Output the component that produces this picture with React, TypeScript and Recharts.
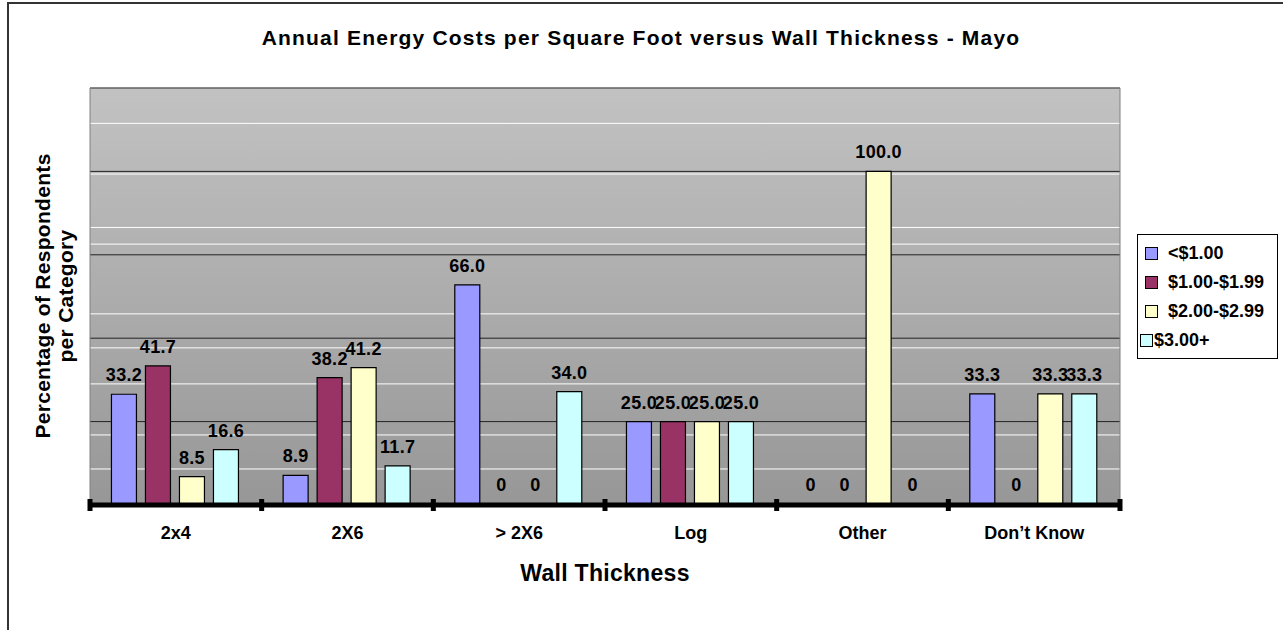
import React from 'react';
import {
  BarChart,
  Bar,
  XAxis,
  YAxis,
  CartesianGrid,
  ReferenceArea,
  LabelList,
  Legend,
  Rectangle,
} from 'recharts';

// Wall thickness categories
const categories = ['2x4', '2X6', '> 2X6', 'Log', 'Other', 'Don\u2019t Know'];

// Percentage of respondents per cost bracket
const under100 = [33.2, 8.9, 66.0, 25.0, 0, 33.3];
const from100to199 = [41.7, 38.2, 0, 25.0, 0, 0];
const from200to299 = [8.5, 41.2, 0, 25.0, 100.0, 33.3];
const over300 = [16.6, 11.7, 34.0, 25.0, 0, 33.3];

const seriesNames = ['<$1.00', '$1.00-$1.99', '$2.00-$2.99', '$3.00+'];
const seriesKeys = ['s0', 's1', 's2', 's3'];
const seriesColors = ['#9999FF', '#993366', '#FFFFCC', '#CCFFFF'];

// Value axis: dark rules every 25, plus the light rules of the plot texture
const yDomain = [0, 125];
const majorTicks = [0, 25, 50, 75, 100, 125];
const minorRules = [10.8, 21.0, 36.3, 47.1, 57.3, 78.2, 83.2, 99.2, 114.4];

const rows = categories.map((name, i) => ({
  name,
  s0: under100[i],
  s1: from100to199[i],
  s2: from200to299[i],
  s3: over300[i],
}));

const FONT = '"Liberation Sans", Arial, Helvetica, sans-serif';

const formatValue = (v: any) => (Number(v) === 0 ? '0' : Number(v).toFixed(1));

// Map the light rule values to pixel rows through the value axis scale
const minorRuleCoords = (args: any) => {
  const { yAxis, offset } = args || {};
  const s = yAxis?.scale;
  return minorRules.map((v) => {
    if (typeof s === 'function') return s(v);
    if (s && typeof s.map === 'function') return s.map(v);
    return offset.top + offset.height * (1 - (v - yDomain[0]) / (yDomain[1] - yDomain[0]));
  });
};

// Zero values keep a hairline slot so their "0" label is still placed,
// but nothing is painted for them.
const zeroSlot = (value: any) => (Number(value) === 0 ? 1 : 0);

const BarShape = (props: any) => {
  if (Number(props.value) === 0) return null;
  return <Rectangle {...props} />;
};

// Value label centred above each bar
const ValueLabel = (props: any) => {
  const vb = props.viewBox || {};
  const bx = vb.x ?? props.x;
  const by = vb.y ?? props.y;
  const bw = vb.width ?? props.width ?? 0;
  const bh = vb.height ?? props.height ?? 0;
  const x = bx + bw / 2;
  const top = Math.min(by, by + bh);
  if (!Number.isFinite(x) || !Number.isFinite(top)) return null;
  return (
    <text
      x={x}
      y={top - 13}
      textAnchor="middle"
      fontFamily={FONT}
      fontWeight="bold"
      fontSize={18}
      letterSpacing={0.3}
      fill="#000"
    >
      {formatValue(props.value)}
    </text>
  );
};

const CategoryTick = (props: any) => {
  const { x, y, payload, index, visibleTicksCount, width } = props;
  const half =
    typeof payload?.offset === 'number' && payload.offset > 0
      ? payload.offset
      : width / visibleTicksCount / 2;
  return (
    <g>
      <rect x={x - half - 2.5} y={y - 6} width={5} height={12} fill="#000" />
      {index === visibleTicksCount - 1 && (
        <rect x={x + half - 2.5} y={y - 6} width={5} height={12} fill="#000" />
      )}
      <text
        x={x}
        y={y + 34}
        textAnchor="middle"
        fontFamily={FONT}
        fontWeight="bold"
        fontSize={18}
        fill="#000"
      >
        {payload.value}
      </text>
    </g>
  );
};

const LegendBox = () => (
  <div
    style={{
      width: 141,
      height: 125,
      boxSizing: 'border-box',
      border: '1px solid #000',
      background: '#fff',
      paddingTop: 4,
      fontFamily: FONT,
      fontWeight: 'bold',
      fontSize: 18,
      color: '#000',
    }}
  >
    {seriesNames.map((n, i) => {
      const compact = i === seriesNames.length - 1;
      return (
        <div
          key={n}
          style={{
            display: 'flex',
            alignItems: 'center',
            height: 29,
            paddingLeft: compact ? 2 : 7,
            whiteSpace: 'nowrap',
          }}
        >
          <span
            style={{
              display: 'inline-block',
              width: 11,
              height: 11,
              border: '1px solid #000',
              background: seriesColors[i],
              marginRight: compact ? 1 : 10,
              flex: '0 0 auto',
            }}
          />
          <span>{n}</span>
        </div>
      );
    })}
  </div>
);

export default function App() {
  return (
    <div
      style={{
        position: 'absolute',
        left: 0,
        top: 0,
        width: 1283,
        height: 630,
        overflow: 'hidden',
        background: '#fff',
      }}
    >
      <svg width={0} height={0} style={{ position: 'absolute' }}>
        <defs>
          <linearGradient id="plotFill" x1="0" y1="0" x2="0" y2="1">
            <stop offset="0" stopColor="#C2C2C2" />
            <stop offset="1" stopColor="#979797" />
          </linearGradient>
        </defs>
      </svg>

      <div
        style={{
          position: 'absolute',
          left: 7,
          top: 2,
          width: 1300,
          height: 660,
          borderLeft: '2px solid #333',
          borderTop: '2px solid #333',
        }}
      />

      <div style={{ position: 'absolute', left: 0, top: 0 }}>
        <BarChart
          width={1283}
          height={630}
          data={rows}
          margin={{ top: 88, right: 163, bottom: 85, left: 90 }}
          barCategoryGap="12.5%"
          barGap={9}
        >
          <YAxis hide type="number" domain={yDomain} ticks={majorTicks} />
          <CartesianGrid
            vertical={false}
            stroke="#222"
            strokeWidth={1}
            fill="url(#plotFill)"
            fillOpacity={1}
          />
          <CartesianGrid
            vertical={false}
            stroke="#FFFFFF"
            strokeWidth={1}
            horizontalCoordinatesGenerator={minorRuleCoords}
          />
          <XAxis
            dataKey="name"
            height={40}
            axisLine={{ stroke: '#000', strokeWidth: 5 }}
            tickLine={false}
            tickSize={0}
            tickMargin={0}
            interval={0}
            tick={<CategoryTick />}
          />
          <ReferenceArea y1={0} y2={125} fill="none" stroke="#808080" strokeWidth={1} ifOverflow="visible" />
          {seriesKeys.map((k, i) => (
            <Bar
              key={k}
              dataKey={k}
              name={seriesNames[i]}
              fill={seriesColors[i]}
              stroke="#000"
              strokeWidth={1.2}
              minPointSize={zeroSlot}
              shape={BarShape}
              isAnimationActive={false}
            >
              <LabelList dataKey={k} content={ValueLabel} />
            </Bar>
          ))}
          <Legend
            layout="vertical"
            align="center"
            verticalAlign="middle"
            content={<LegendBox />}
            wrapperStyle={{ left: 1137, top: 234, width: 141, height: 125 }}
          />
        </BarChart>
      </div>

      <svg
        width={1283}
        height={630}
        style={{ position: 'absolute', left: 0, top: 0, pointerEvents: 'none' }}
      >
        <text x={641} y={45} textAnchor="middle" fontFamily={FONT} fontWeight="bold" fontSize={21} letterSpacing={1.2} fill="#000">
          Annual Energy Costs per Square Foot versus Wall Thickness - Mayo
        </text>
        <text x={605} y={581} textAnchor="middle" fontFamily={FONT} fontWeight="bold" fontSize={23} letterSpacing={0.3} fill="#000">
          Wall Thickness
        </text>
        <g transform="rotate(-90)" fontFamily={FONT} fontWeight="bold" fontSize={21} letterSpacing={0.3} fill="#000">
          <text x={-296} y={50} textAnchor="middle">Percentage of Respondents</text>
          <text x={-296} y={73} textAnchor="middle">per Category</text>
        </g>
      </svg>
    </div>
  );
}
